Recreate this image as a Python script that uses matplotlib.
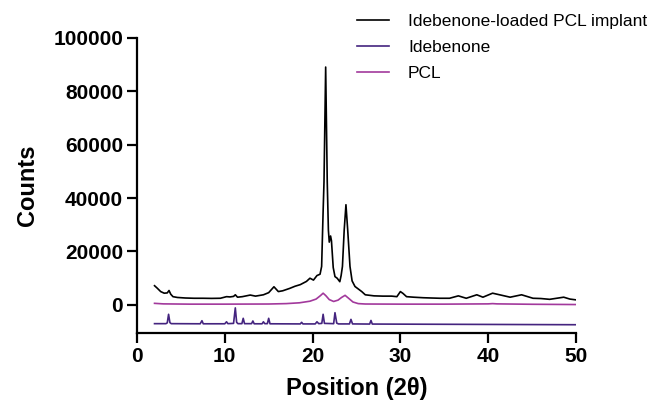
import matplotlib
matplotlib.use("Agg")
import matplotlib.pyplot as plt

plt.rcParams['font.family'] = ['Liberation Sans', 'DejaVu Sans']

# XRD patterns: (2-theta, counts) points
implant_2theta = [2.0, 2.3, 2.7, 3.1, 3.45, 3.65, 3.85, 4.1, 4.6, 5.5, 6.5, 7.5, 8.5, 9.5,
                  10.2, 10.6, 11.0, 11.2, 11.45, 12.0, 12.9, 13.5, 14.4, 15.0, 15.6, 16.1,
                  16.6, 17.4, 18.0, 18.6, 19.3, 19.7, 20.1, 20.5, 20.85, 21.03, 21.2, 21.3,
                  21.49, 21.67, 21.8, 21.9, 22.05, 22.15, 22.35, 22.55, 22.8, 23.1, 23.25,
                  23.4, 23.6, 23.8, 24.0, 24.26, 24.5, 24.83, 25.6, 26.0, 27.0, 28.0, 29.0,
                  29.6, 30.0, 30.3, 30.7, 31.5, 32.6, 33.5, 34.5, 35.6, 36.6, 37.5, 38.7,
                  39.4, 40.5, 41.3, 42.5, 43.8, 45.1, 46.0, 47.0, 48.0, 48.6, 49.3, 50.0]
implant_counts = [7200, 6300, 5000, 4400, 4500, 5400, 4000, 3100, 2800, 2600, 2500, 2500, 2450, 2500,
                  3100, 3000, 3200, 3800, 2900, 3100, 3700, 3300, 3800, 4600, 6800, 5000,
                  5300, 6200, 7000, 7600, 8800, 10000, 9300, 11000, 11500, 14400, 35000, 46000,
                  89000, 46000, 28000, 23500, 25800, 24000, 14000, 10600, 10000, 8700, 11000,
                  14400, 28000, 37500, 28000, 14400, 9000, 6900, 5000, 3800, 3400, 3300, 3300,
                  3100, 5000, 4300, 3100, 2900, 2700, 2600, 2500, 2500, 3400, 2500, 3800,
                  2900, 4400, 3800, 2900, 3800, 2500, 2400, 2100, 2600, 2900, 2200, 1900]

ide_2theta = [2.0, 3.3, 3.45, 3.6, 3.75, 3.9, 7.2, 7.4, 7.55, 10.0, 10.2, 10.35, 11.0, 11.2,
              11.35, 11.5, 11.95, 12.1, 12.25, 13.05, 13.2, 13.35, 14.25, 14.4, 14.55, 14.85,
              15.0, 15.15, 18.6, 18.75, 18.9, 20.3, 20.5, 20.7, 21.05, 21.2, 21.35, 22.4,
              22.55, 22.75, 22.95, 24.2, 24.37, 24.55, 26.5, 26.65, 26.8, 50.0]
ide_counts = [-7000, -7000, -6700, -3500, -6600, -7000, -7050, -5900, -7050, -7050, -6300, -7000,
              -6900, -1100, -6500, -7000, -7000, -5000, -7000, -7000, -6000, -7050, -7050, -6300,
              -7000, -7000, -5000, -7050, -7100, -6500, -7100, -7100, -6300, -7000, -6900, -3500,
              -6900, -7000, -2900, -6800, -7100, -7100, -5400, -7100, -7150, -5800, -7150, -7400]

pcl_2theta = [2.0, 3.0, 6.0, 10.0, 15.0, 17.0, 18.5, 19.7, 20.4, 20.9, 21.2, 21.5, 21.9, 22.4,
              22.9, 23.3, 23.7, 24.1, 24.6, 25.2, 26.0, 30.0, 35.0, 40.0, 40.5, 41.0, 45.0, 50.0]
pcl_counts = [600, 400, 300, 300, 350, 500, 800, 1400, 2200, 3500, 4400, 3500, 2000, 1300,
              1800, 2800, 3600, 2500, 1100, 500, 350, 300, 300, 400, 500, 400, 250, 150]

fig = plt.figure(figsize=(6.51, 4.07), dpi=100)
ax = fig.add_axes([0.2104, 0.1818, 0.6744, 0.7256])

ax.plot(implant_2theta, implant_counts, color='black', lw=1.2, label='Idebenone-loaded PCL implant')
ax.plot(ide_2theta, ide_counts, color='#44247f', lw=1.2, label='Idebenone')
ax.plot(pcl_2theta, pcl_counts, color='#a2399c', lw=1.2, label='PCL')

ax.set_xlim(0, 50)
ax.set_ylim(-10500, 100000)
ax.set_xticks([0, 10, 20, 30, 40, 50])
ax.set_yticks([0, 20000, 40000, 60000, 80000, 100000])

for s in ['top', 'right']:
    ax.spines[s].set_visible(False)
for s in ['left', 'bottom']:
    ax.spines[s].set_linewidth(1.6)

ax.tick_params(direction='out', length=7, width=1.6, labelsize=15, pad=3)
for lab in ax.get_xticklabels() + ax.get_yticklabels():
    lab.set_fontweight('bold')

ax.set_xlabel('Position (2\u03b8)', fontsize=17, fontweight='bold', labelpad=8)
ax.set_ylabel('Counts', fontsize=17, fontweight='bold', labelpad=10)

fig.legend(loc='upper left', bbox_to_anchor=(0.548, 0.966), frameon=False, fontsize=12.5,
           handlelength=1.85, handletextpad=1.1, labelspacing=0.63, borderpad=0, borderaxespad=0)

fig.savefig('out.png', dpi=100)
